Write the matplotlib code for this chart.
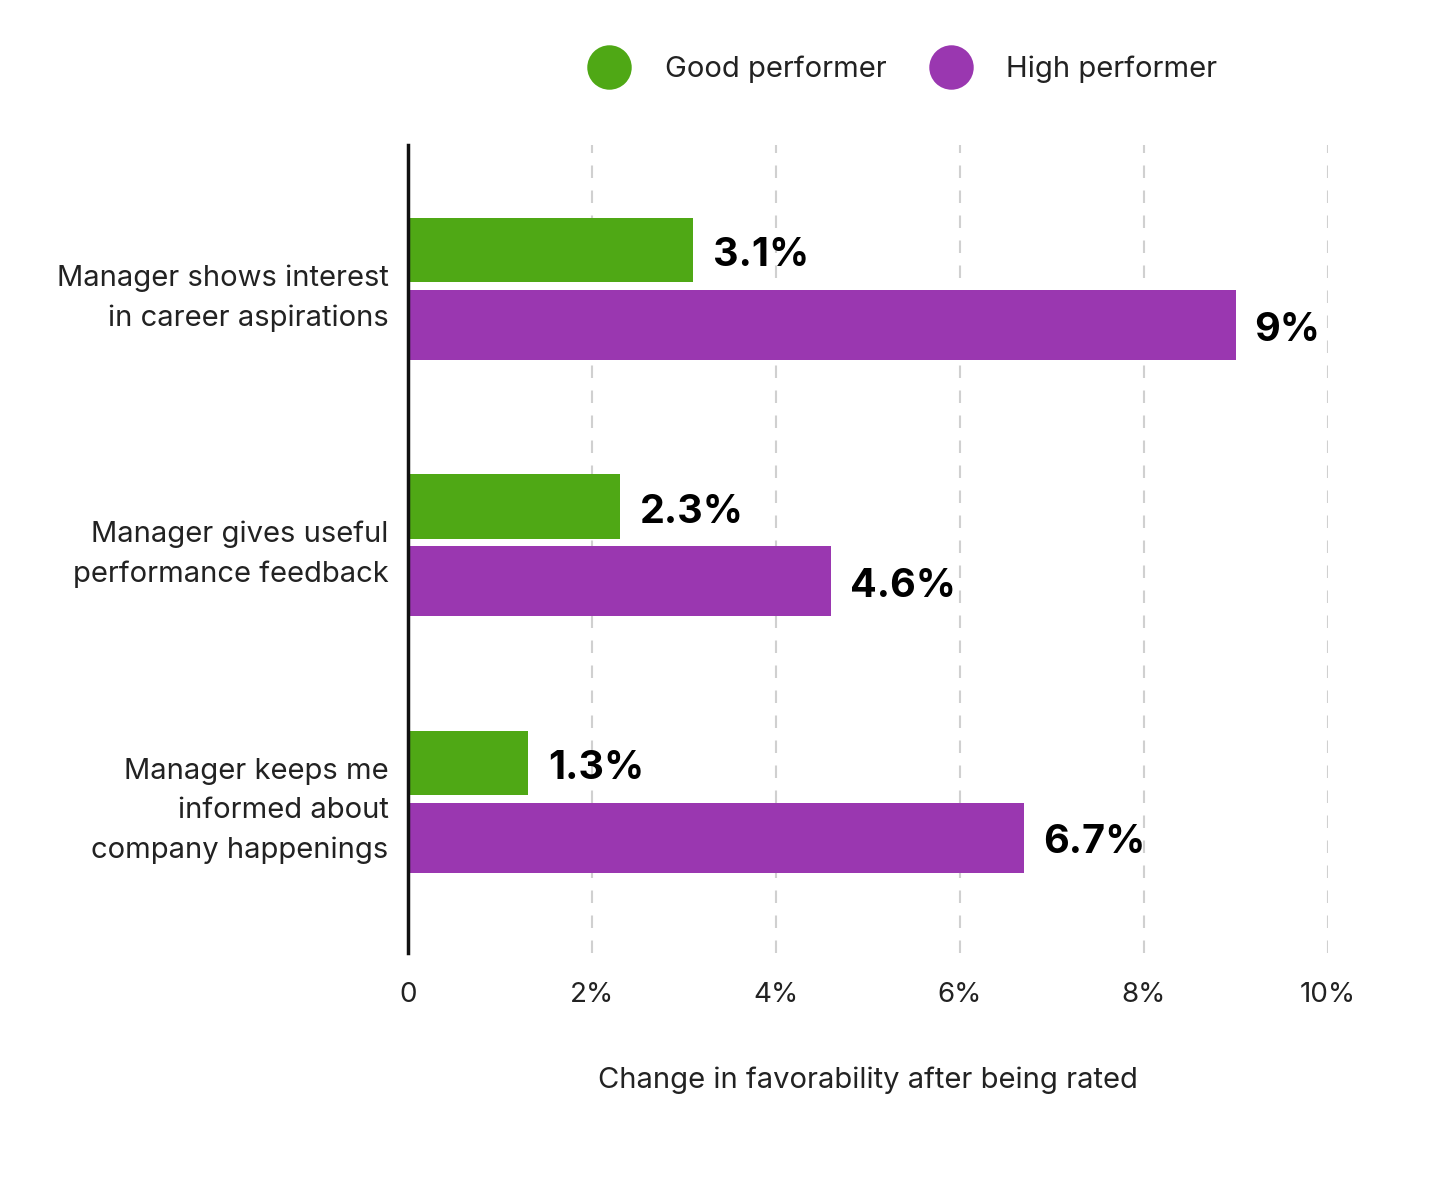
import matplotlib
matplotlib.use('Agg')
import matplotlib.pyplot as plt
import matplotlib.transforms as mtransforms
from matplotlib.lines import Line2D
import numpy as np

plt.rcParams['font.family'] = ['Inter', 'DejaVu Sans']

# data
categories = [
    "Manager shows interest\nin career aspirations",
    "Manager gives useful\nperformance feedback",
    "Manager keeps me\ninformed about\ncompany happenings",
]
good = [3.1, 2.3, 1.3]
high = [9.0, 4.6, 6.7]
good_labels = ["3.1%", "2.3%", "1.3%"]
high_labels = ["9%", "4.6%", "6.7%"]
xticks = [0, 2, 4, 6, 8, 10]
xtick_labels = ["0", "2%", "4%", "6%", "8%", "10%"]

GREEN = "#4FA815"
PURPLE = "#9A37B0"

fig = plt.figure(figsize=(14.4, 11.91), dpi=100)
ax = fig.add_axes([0.2833, 0.1998, 0.6389, 0.6785])

y = np.arange(len(categories))
ax.barh(y - 0.152, good, height=0.25, color=GREEN, zorder=2)
ax.barh(y + 0.14, high, height=0.273, color=PURPLE, zorder=2)

# value labels, nudged to sit centred on the bars
for yi, v, lab in zip(y, good, good_labels):
    ax.text(v + 0.22, yi - 0.152 + 0.022, lab, ha='left', va='center', fontsize=28.5,
            fontweight='bold', color='black')
for yi, v, lab in zip(y, high, high_labels):
    ax.text(v + 0.2, yi + 0.14 + 0.02, lab, ha='left', va='center', fontsize=28.5,
            fontweight='bold', color='black')

ax.set_xlim(0, 10)
ax.set_ylim(2.59, -0.5625)
ax.set_yticks(y)
ax.set_yticklabels(categories, fontsize=21, color='#222222', linespacing=1.58)
# lift category labels a few pixels
shift = mtransforms.ScaledTranslation(0, 0.045, fig.dpi_scale_trans)
for lbl in ax.get_yticklabels():
    lbl.set_transform(lbl.get_transform() + shift)
ax.set_xticks(xticks)
ax.set_xticklabels(xtick_labels, fontsize=20, color='#222222')
ax.tick_params(axis='both', length=0)
ax.tick_params(axis='y', pad=14)
ax.tick_params(axis='x', pad=21)

for xv in xticks[1:]:
    ax.axvline(xv, color='#D0D0D0', linewidth=1.5, linestyle=(0, (6, 6)), zorder=1)

for s in ['top', 'right', 'bottom']:
    ax.spines[s].set_visible(False)
ax.spines['left'].set_linewidth(2.5)
ax.spines['left'].set_color('#111111')
ax.spines['left'].set_zorder(3)

ax.set_xlabel("Change in favorability after being rated", fontsize=21,
              color='#222222', labelpad=42)

handles = [
    Line2D([], [], marker='o', linestyle='none', markersize=32,
           markerfacecolor=GREEN, markeredgecolor='none', label='Good performer'),
    Line2D([], [], marker='o', linestyle='none', markersize=32,
           markerfacecolor=PURPLE, markeredgecolor='none', label='High performer'),
]
fig.legend(handles=handles, loc='center', bbox_to_anchor=(0.624, 0.9415),
           ncol=2, frameon=False, fontsize=21, handletextpad=0.9,
           columnspacing=1.2, labelcolor='#222222')

fig.savefig("out.png", dpi=100, facecolor='white')
